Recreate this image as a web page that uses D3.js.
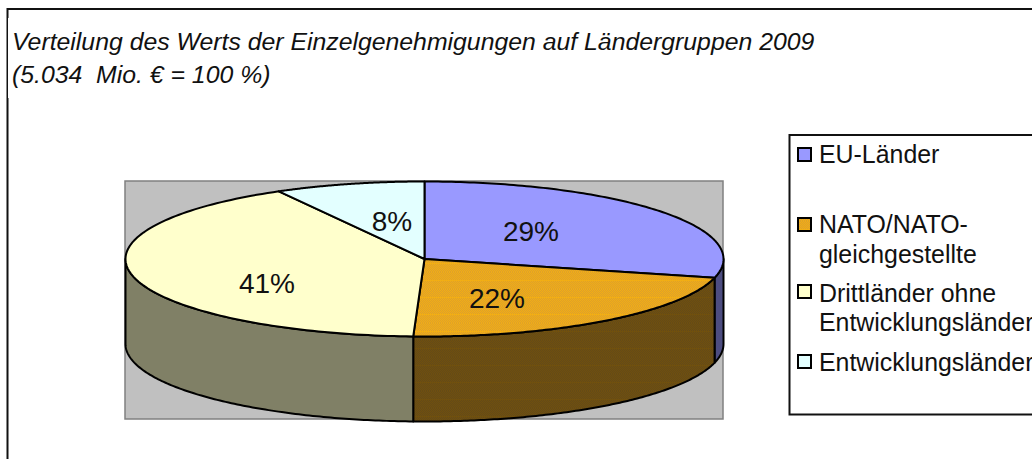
<!DOCTYPE html>
<html><head><meta charset="utf-8">
<style>html,body{margin:0;padding:0;background:#fff}svg{display:block}text{font-family:"Liberation Sans",Arial,sans-serif;fill:#111}</style>
<script src="https://cdnjs.cloudflare.com/ajax/libs/d3/7.8.5/d3.min.js"></script>
</head><body><div id="chart"></div>
<script>
const categories = ["EU-Länder", "NATO/NATO-gleichgestellte", "Drittländer ohne Entwicklungsländer", "Entwicklungsländer"];
const shares = [28.9, 21.7, 41.3, 8.1];
const legendLines = [["EU-Länder"], ["NATO/NATO-", "gleichgestellte"], ["Drittländer ohne", "Entwicklungsländer"], ["Entwicklungsländer"]];
const titleLines = ["Verteilung des Werts der Einzelgenehmigungen auf Ländergruppen 2009", "(5.034  Mio. € = 100 %)"];

// styles and layout
const W = 1032, H = 459;
const topFill = ["#9999FF", "url(#dither)", "#FFFFCC", "#E3FFFF"];
const sideFill = ["#4D4D80", "url(#ditherDark)", "#808066", "#72807F"];
const cx = 424.5, cy = 259, rx = 299, ry = 77.5, depth = 85;
const labelPos = [[531, 241], [497, 308], [267, 293], [392, 231]];
const legendBase = [[163], [233, 263], [302, 331], [371]];
const swatchTop = [148, 218, 285, 355];

const svg = d3.select("#chart").append("svg").attr("width", W).attr("height", H);
const defs = svg.append("defs");
function dither(id, a, b, band) {
  const p = defs.append("pattern").attr("id", id).attr("patternUnits", "userSpaceOnUse")
    .attr("width", 2).attr("height", 17);
  p.append("rect").attr("width", 2).attr("height", 17).attr("fill", a);
  d3.range(17).forEach(r => p.append("rect").attr("x", r % 2).attr("y", r).attr("width", 1).attr("height", 1)
    .attr("fill", r === 8 ? band : b));
}
dither("dither", "#F2AE14", "#DDA02C", "#F2AE14");
dither("ditherDark", "#70500E", "#644A18", "#70500E");

// chart border
svg.append("rect").attr("x", 7.5).attr("y", 9).attr("width", W + 20).attr("height", H + 20)
  .attr("fill", "#fff").attr("stroke", "#111").attr("stroke-width", 2);
// title backing box
svg.append("rect").attr("x", 8).attr("y", 18).attr("width", 830).attr("height", 80).attr("fill", "#fff");
svg.append("g").selectAll("text").data(titleLines).join("text")
  .attr("x", 12).attr("y", (d, i) => 50 + i * 33)
  .attr("font-size", 24.8).attr("font-style", "italic").style("white-space", "pre")
  .text(d => d);

// plot area
svg.append("rect").attr("x", 125).attr("y", 181).attr("width", 598).attr("height", 238)
  .attr("fill", "#C0C0C0").attr("stroke", "#808080").attr("stroke-width", 1.5);

// pie, drawn in page coordinates so the dither pattern stays pixel-sharp
const arcs = d3.pie().sort(null).startAngle(0).endAngle(2 * Math.PI)(shares);
const px = a => cx + rx * Math.sin(a), py = a => cy - ry * Math.cos(a);
const line = d3.line();
const sweep = (a0, a1) => d3.range(0, 121).map(i => a0 + (a1 - a0) * i / 120);
function sidePath(d) {
  const a0 = Math.max(d.startAngle, Math.PI / 2), a1 = Math.min(d.endAngle, 1.5 * Math.PI);
  if (a1 <= a0) return null;
  const as = sweep(a0, a1);
  return line(as.map(a => [px(a), py(a)]).concat(as.slice().reverse().map(a => [px(a), py(a) + depth]))) + "Z";
}
function topPath(d) {
  return line([[cx, cy]].concat(sweep(d.startAngle, d.endAngle).map(a => [px(a), py(a)]))) + "Z";
}
svg.append("g").selectAll("path").data(arcs).join("path")
  .attr("d", sidePath).attr("fill", (d, i) => sideFill[i])
  .attr("stroke", "#000").attr("stroke-width", 2).attr("stroke-linejoin", "round");
svg.append("g").selectAll("path").data(arcs).join("path")
  .attr("d", topPath).attr("fill", (d, i) => topFill[i])
  .attr("stroke", "#000").attr("stroke-width", 2).attr("stroke-linejoin", "round");

const pct = d3.format(".0f");
svg.append("g").selectAll("text").data(shares).join("text")
  .attr("x", (d, i) => labelPos[i][0]).attr("y", (d, i) => labelPos[i][1])
  .attr("text-anchor", "middle").attr("font-size", 28).text(d => pct(d) + "%");

// legend
svg.append("rect").attr("x", 789.5).attr("y", 135).attr("width", 300).attr("height", 279.5)
  .attr("fill", "#fff").attr("stroke", "#111").attr("stroke-width", 2);
const leg = svg.append("g").selectAll("g").data(categories).join("g");
leg.append("rect").attr("x", 798).attr("y", (d, i) => swatchTop[i]).attr("width", 13).attr("height", 13)
  .attr("fill", (d, i) => topFill[i]).attr("stroke", "#000").attr("stroke-width", 2);
leg.each(function (d, i) {
  d3.select(this).selectAll("text").data(legendLines[i]).join("text")
    .attr("x", 819).attr("y", (t, j) => legendBase[i][j]).attr("font-size", 24.9).text(t => t);
});
</script></body></html>
